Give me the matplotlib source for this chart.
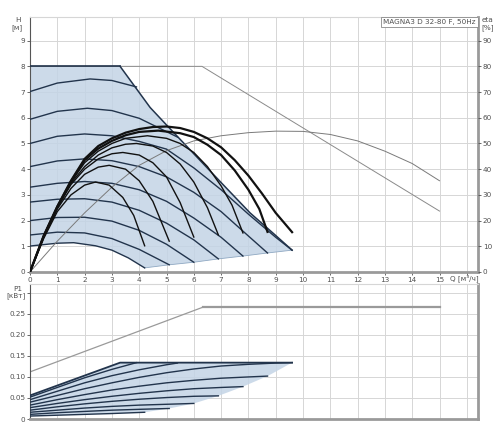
import matplotlib
matplotlib.use("Agg")
import matplotlib.pyplot as plt

# ── head curves, H [m] over Q [m3/h] (lowest speed first) ─────────────────
speed_q = [
    [0, 1, 1.6, 2.4, 3, 3.6, 4.2],
    [0, 1, 2, 3, 4, 5.1],
    [0, 1, 2, 3, 4, 5, 6],
    [0, 1, 2, 3, 4, 5, 6, 6.9],
    [0, 1, 2, 3, 4, 5, 6, 7, 7.8],
    [0, 1, 2, 3, 4, 5, 6, 7, 8, 8.7],
    [0, 1, 2, 3, 4, 5, 6, 7, 8, 9, 9.6],
    [0, 1, 2.1, 3, 4, 5, 5.4],
    [0, 1, 2.2, 3, 3.9],
]
speed_h = [
    [1.01, 1.12, 1.14, 1.02, 0.85, 0.55, 0.16],
    [1.44, 1.55, 1.52, 1.30, 0.88, 0.28],
    [2.00, 2.12, 2.13, 1.98, 1.62, 1.08, 0.38],
    [2.72, 2.83, 2.85, 2.72, 2.40, 1.90, 1.25, 0.51],
    [3.30, 3.45, 3.52, 3.45, 3.20, 2.75, 2.10, 1.35, 0.62],
    [4.10, 4.32, 4.40, 4.33, 4.10, 3.70, 3.10, 2.35, 1.40, 0.74],
    [5.00, 5.28, 5.37, 5.30, 5.08, 4.78, 4.05, 3.20, 2.25, 1.35, 0.85],
    [5.94, 6.25, 6.37, 6.28, 5.98, 5.46, 5.25],
    [7.02, 7.35, 7.51, 7.45, 7.20],
]
n_low = 7  # curves 1..7 end on the lower limit line

# max head limit
top_q = [0, 3.3]
top_h = [8.0, 8.0]
bound_q = [3.3, 4.4, 5.0, 6.0, 7.0, 8.06, 9.0, 9.6]
bound_h = [8.0, 6.4, 5.72, 4.6, 3.48, 2.3, 1.42, 0.85]
hmax_q = [0, 6.3, 15]
hmax_h = [8.0, 8.0, 2.37]

# ── efficiency curves, eta [%] ─────────────────────────────────────────────
eta_q = [
    [0, 0.5, 1, 1.5, 2, 2.4, 2.9, 3.4, 3.8, 4.2],
    [0, 0.5, 1, 1.5, 2, 2.5, 2.9, 3.5, 4, 4.5, 5.1],
    [0, 0.5, 1, 1.5, 2, 2.5, 3, 3.4, 4, 4.5, 5, 5.5, 6],
    [0, 0.5, 1, 1.5, 2, 2.5, 3, 3.5, 3.9, 4.5, 5, 5.5, 6, 6.5, 6.9],
    [0, 0.5, 1, 1.5, 2, 2.5, 3, 3.5, 4.3, 5, 5.5, 6, 6.5, 7, 7.4, 7.8],
    [0, 0.5, 1, 1.5, 2, 2.5, 3, 3.5, 4, 4.7, 5.5, 6, 6.5, 7, 7.5, 8, 8.4, 8.7],
    [0, 0.5, 1, 1.5, 2, 2.5, 3, 3.5, 4, 4.5, 5, 5.5, 6, 6.5, 7, 7.5, 8, 8.5, 9, 9.6],
]
eta_v = [
    [0, 13, 23.5, 30, 33.8, 35, 33.8, 29, 22, 10.2],
    [0, 13.5, 24.5, 32.5, 38, 40.8, 41.5, 40, 35.5, 27.5, 12],
    [0, 13.8, 25, 34, 40, 44, 46, 46.5, 45.5, 42.5, 37, 27, 13.6],
    [0, 14, 25.2, 34.5, 41, 45.5, 48.3, 49.7, 50, 49, 46.5, 42, 35, 25, 14.4],
    [0, 14, 25.3, 35, 42.5, 47, 50, 52, 53, 52, 50, 46.5, 41, 33.5, 26, 15.2],
    [0, 14, 25.4, 35.2, 43.5, 48, 51, 53.2, 54.5, 55, 54, 52.5, 49.5, 45.5, 39.5, 32, 24.5, 15.6],
    [0, 14, 25.5, 35.5, 44, 49, 52, 54.2, 55.6, 56.4, 56.6, 56, 54.5, 52, 48.5, 43.5, 37.5, 30.5, 23, 15.5],
]
eta_max_q = [0, 1, 2, 3, 4, 5, 6, 7, 8, 9, 10, 11, 12, 13, 14, 15]
eta_max_v = [0, 12, 23, 33, 41.5, 47.2, 51, 53, 54.2, 54.8, 54.7, 53.5, 51, 47, 42.2, 35.5]

# ── power curves, P1 [kW] ──────────────────────────────────────────────────
pow_q = [
    [0, 1, 2, 3, 4.2],
    [0, 1, 2, 3, 4, 5.1],
    [0, 1, 2, 3, 4, 5, 6],
    [0, 1, 2, 3, 4, 5, 6, 6.9],
    [0, 1, 2, 3, 4, 5, 6, 7, 7.8],
    [0, 1, 2, 3, 4, 5, 6, 7, 8, 8.7],
    [0, 1, 2, 3, 4, 5, 6, 7, 8, 9, 9.6],
    [0, 1, 2, 3, 4, 5, 5.4],
    [0, 1, 2, 3, 3.9],
]
pow_v = [
    [0.007, 0.009, 0.011, 0.013, 0.016],
    [0.011, 0.015, 0.018, 0.021, 0.023, 0.025],
    [0.016, 0.021, 0.026, 0.030, 0.033, 0.035, 0.037],
    [0.021, 0.029, 0.036, 0.042, 0.047, 0.051, 0.054, 0.055],
    [0.027, 0.037, 0.046, 0.054, 0.061, 0.067, 0.072, 0.075, 0.077],
    [0.033, 0.046, 0.058, 0.069, 0.078, 0.086, 0.092, 0.097, 0.100, 0.102],
    [0.040, 0.056, 0.072, 0.086, 0.099, 0.110, 0.119, 0.126, 0.130, 0.133, 0.134],
    [0.046, 0.066, 0.086, 0.103, 0.117, 0.129, 0.133],
    [0.052, 0.075, 0.098, 0.118, 0.134],
]
pmax_q = [0, 3.3, 9.6]
pmax_v = [0.056, 0.134, 0.134]
ptot_q = [0, 6.34, 15]
ptot_v = [0.112, 0.266, 0.266]

x_ticks = list(range(0, 17))
h_ticks = list(range(0, 10))
eta_ticks = list(range(0, 100, 10))
p_ticks = [0, 0.05, 0.10, 0.15, 0.20, 0.25, 0.30]
p_labels = ['0', '0.05', '0.10', '0.15', '0.20', '0.25', '']

SHADE = '#c3d4e6'
NAVY = '#22344c'
GRID = '#d6d6d6'
FRAME = '#9a9a9a'
TXT = '#505050'
FS = 5.2

W, H = 500, 438
fig = plt.figure(figsize=(W / 100, H / 100), dpi=100)
fig.patch.set_facecolor('white')


def px_rect(l, t, r, b):
    return [l / W, 1 - b / H, (r - l) / W, (b - t) / H]


def style(ax):
    ax.set_xlim(0, 16.41)
    ax.set_xticks(x_ticks)
    ax.grid(True, color=GRID, lw=0.7, zorder=0)
    ax.set_axisbelow(True)
    ax.spines['left'].set_color('#555555')
    ax.spines['left'].set_linewidth(0.8)
    ax.spines['top'].set_color(GRID)
    ax.spines['top'].set_linewidth(0.8)
    for s in ('right', 'bottom'):
        ax.spines[s].set_color(FRAME)
        ax.spines[s].set_linewidth(2.0)
    ax.tick_params(labelsize=FS, colors=TXT, length=2, width=0.6, pad=1.5)


# ── top panel: head / efficiency ───────────────────────────────────────────
ax = fig.add_axes(px_rect(30, 17, 478, 272))
style(ax)
ax.set_ylim(0, 9.92)
ax.set_yticks(h_ticks)
ax.set_xticklabels([str(v) if v < 16 else '' for v in x_ticks])

# operating area
low_q = [speed_q[i][-1] for i in range(n_low)]
low_h = [speed_h[i][-1] for i in range(n_low)]
poly_q = top_q + bound_q[1:] + low_q[::-1][1:] + speed_q[0][::-1][1:]
poly_h = top_h + bound_h[1:] + low_h[::-1][1:] + speed_h[0][::-1][1:]
ax.fill(poly_q, poly_h, color=SHADE, alpha=0.85, lw=0, zorder=1)

ax.plot(hmax_q, hmax_h, color='#8a8a8a', lw=0.7, zorder=2)
for q, h in zip(speed_q, speed_h):
    ax.plot(q, h, color=NAVY, lw=1.0, zorder=3)
ax.plot(top_q, top_h, color=NAVY, lw=1.2, zorder=3)
ax.plot(bound_q, bound_h, color=NAVY, lw=1.1, zorder=3)
ax.plot(low_q, low_h, color='#8fa8c2', lw=0.6, zorder=2)

ax2 = ax.twinx()
ax2.set_ylim(0, 99.2)
ax2.set_yticks(eta_ticks)
ax2.tick_params(labelsize=FS, colors=TXT, length=2, width=0.6, pad=1.5)
for s in ax2.spines.values():
    s.set_visible(False)
ax2.plot(eta_max_q, eta_max_v, color='#7a7a7a', lw=0.7)
for i, (q, e) in enumerate(zip(eta_q, eta_v)):
    ax2.plot(q, e, color='#111111', lw=1.0 if i < 5 else 1.6)

ax.text(0.995, 0.992, 'MAGNA3 D 32-80 F, 50Hz', transform=ax.transAxes,
        ha='right', va='top', fontsize=FS, color=TXT, zorder=5,
        bbox=dict(boxstyle='square,pad=0.25', fc='white', ec='#888888', lw=0.6))

fig.text(18 / W, 1 - 20 / H, 'H', fontsize=FS, color=TXT, ha='center', va='center')
fig.text(17 / W, 1 - 28 / H, '[м]', fontsize=FS, color=TXT, ha='center', va='center')
fig.text(488 / W, 1 - 20 / H, 'eta', fontsize=FS, color=TXT, ha='center', va='center')
fig.text(488 / W, 1 - 28 / H, '[%]', fontsize=FS, color=TXT, ha='center', va='center')
fig.text(464 / W, 1 - 278 / H, 'Q [м³/ч]', fontsize=FS, color=TXT, ha='center', va='center')

# ── bottom panel: power ────────────────────────────────────────────────────
bx = fig.add_axes(px_rect(30, 284, 478, 419))
style(bx)
bx.set_ylim(0, 0.321)
bx.set_yticks(p_ticks)
bx.set_yticklabels(p_labels)
bx.set_xticklabels([])
bx.tick_params(axis='x', length=0)

plow_q = [pow_q[i][-1] for i in range(n_low)]
plow_v = [pow_v[i][-1] for i in range(n_low)]
ppoly_q = pmax_q + plow_q[::-1][1:] + pow_q[0][::-1][1:]
ppoly_v = pmax_v + plow_v[::-1][1:] + pow_v[0][::-1][1:]
bx.fill(ppoly_q, ppoly_v, color=SHADE, alpha=0.85, lw=0, zorder=1)
for q, p in zip(pow_q, pow_v):
    bx.plot(q, p, color=NAVY, lw=1.0, zorder=3)
bx.plot(pmax_q, pmax_v, color=NAVY, lw=1.3, zorder=3)
bx.plot(ptot_q[:2], ptot_v[:2], color='#9a9a9a', lw=0.9, zorder=2)
bx.plot(ptot_q[1:], ptot_v[1:], color='#9a9a9a', lw=1.6, zorder=2)

fig.text(18 / W, 1 - 289 / H, 'P1', fontsize=FS, color=TXT, ha='center', va='center')
fig.text(16 / W, 1 - 296 / H, '[кВт]', fontsize=FS, color=TXT, ha='center', va='center')

fig.savefig('out.png', dpi=100, facecolor='white')
